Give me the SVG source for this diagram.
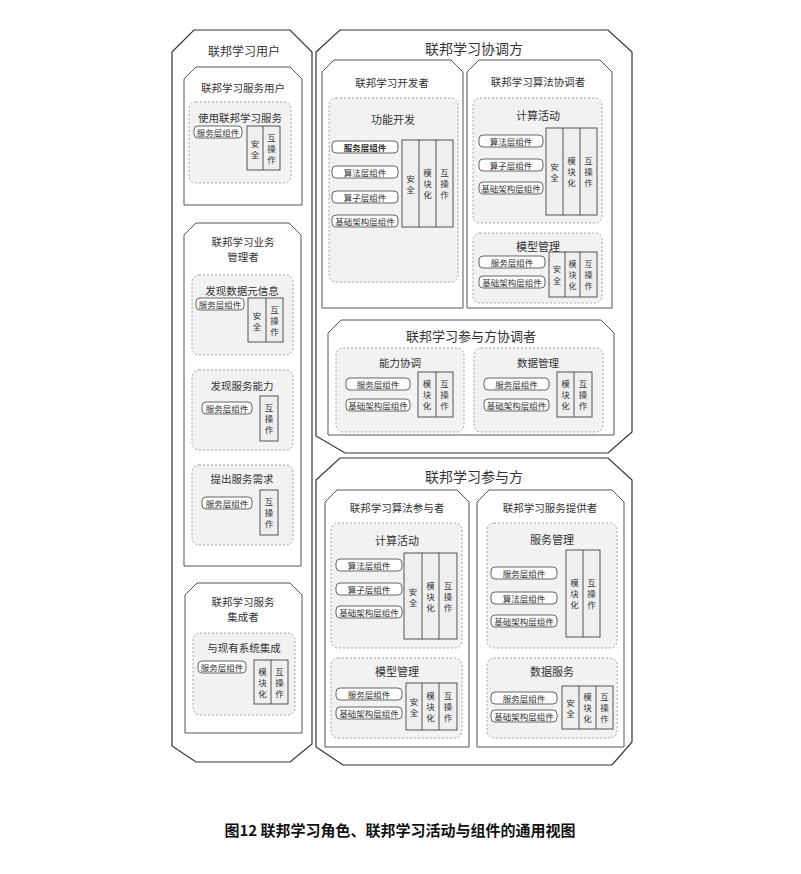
<svg xmlns="http://www.w3.org/2000/svg" width="801" height="874" viewBox="0 0 801 874">
<style>
text{font-family:"Noto Sans CJK SC","Noto Sans CJK JP",sans-serif;fill:#333;text-anchor:middle;dominant-baseline:central}
.o{fill:#fff;stroke:#333;stroke-width:1.2}
.r{fill:#fff;stroke:#555;stroke-width:1}
.d{fill:#f2f2f2;stroke:#999;stroke-width:0.9;stroke-dasharray:2 2}
.c{fill:#fff;stroke:#555;stroke-width:0.9}
.b{fill:#efefef;stroke:#444;stroke-width:0.9}
.t1{font-size:14px}.t2{font-size:10.5px}.t3{font-size:11px}.tc{font-size:8.5px}.tv{font-size:8.5px}
.cap{font-size:15px;font-weight:bold;fill:#111}
</style>
<rect width="801" height="874" fill="#fff"/>
<g id="outer">
<path class="o" d="M172,52 L194,30 L290,30 L312,52 L312,744 L290,762 L196,762 L172,746 Z"/>
<text class="t2" x="244" y="50" style="font-size:12px">联邦学习用户</text>
<path class="o" d="M316,52 L340,30 L608,30 L632,52 L632,432 L608,453 L345,453 L316,436 Z"/>
<text class="t1" x="474" y="48">联邦学习协调方</text>
<path class="o" d="M316,480 L340,458 L608,458 L632,480 L632,742 L612,765 L343,765 L316,747 Z"/>
<text class="t1" x="474" y="476">联邦学习参与方</text>
</g>
<g id="fuyonghu">
<path class="r" d="M184,79 L196,67 L290,67 L302,79 L302,205 L184,205 Z"/>
<text class="t2" x="243" y="87">联邦学习服务用户</text>
<rect class="d" x="189" y="102" width="102" height="81" rx="7"/>
<text class="t2" x="240" y="117">使用联邦学习服务</text>
<rect class="c" x="194" y="126" width="48" height="12" rx="4"/><text class="tc" x="218" y="132">服务层组件</text>
<rect class="b" x="247" y="126" width="33" height="44"/><line stroke="#444" stroke-width="0.9" x1="263" y1="126" x2="263" y2="170"/>
<text class="tv" x="255" y="142.5">安<tspan x="255" dy="11">全</tspan></text>
<text class="tv" x="271.5" y="137">互<tspan x="271.5" dy="11">操</tspan><tspan x="271.5" dy="11">作</tspan></text>
</g>
<g id="yewuguanli">
<path class="r" d="M184,235 L196,223 L289,223 L301,235 L301,566 L184,566 Z"/>
<text class="t2" x="243" y="241">联邦学习业务</text><text class="t2" x="243" y="256">管理者</text>
<rect class="d" x="192" y="275" width="101" height="80" rx="7"/>
<text class="t2" x="242" y="290">发现数据元信息</text>
<rect class="c" x="196" y="298" width="48" height="12" rx="4"/><text class="tc" x="220" y="304">服务层组件</text>
<rect class="b" x="248" y="298" width="35" height="44"/><line stroke="#444" stroke-width="0.9" x1="266" y1="298" x2="266" y2="342"/>
<text class="tv" x="257" y="314.5">安<tspan x="257" dy="11">全</tspan></text>
<text class="tv" x="274.5" y="309">互<tspan x="274.5" dy="11">操</tspan><tspan x="274.5" dy="11">作</tspan></text>
<rect class="d" x="192" y="370" width="101" height="80" rx="7"/>
<text class="t2" x="242" y="385">发现服务能力</text>
<rect class="c" x="202" y="402" width="50" height="12" rx="4"/><text class="tc" x="227" y="408">服务层组件</text>
<rect class="b" x="260" y="396" width="18" height="45"/>
<text class="tv" x="269" y="407">互<tspan x="269" dy="11">操</tspan><tspan x="269" dy="11">作</tspan></text>
<rect class="d" x="192" y="465" width="101" height="80" rx="7"/>
<text class="t2" x="242" y="478">提出服务需求</text>
<rect class="c" x="202" y="497" width="50" height="12" rx="4"/><text class="tc" x="227" y="503">服务层组件</text>
<rect class="b" x="260" y="490" width="18" height="45"/>
<text class="tv" x="269" y="501">互<tspan x="269" dy="11">操</tspan><tspan x="269" dy="11">作</tspan></text>
</g>
<g id="jicheng">
<path class="r" d="M185,595 L197,583 L290,583 L302,595 L302,733 L185,733 Z"/>
<text class="t2" x="243" y="601">联邦学习服务</text><text class="t2" x="243" y="616">集成者</text>
<rect class="d" x="193" y="633" width="102" height="82" rx="7"/>
<text class="t2" x="244" y="647">与现有系统集成</text>
<rect class="c" x="198" y="661" width="48" height="12" rx="4"/><text class="tc" x="222" y="667">服务层组件</text>
<rect class="b" x="254" y="660" width="34" height="44"/><line stroke="#444" stroke-width="0.9" x1="271" y1="660" x2="271" y2="704"/>
<text class="tv" x="262.5" y="671">模<tspan x="262.5" dy="11">块</tspan><tspan x="262.5" dy="11">化</tspan></text>
<text class="tv" x="279.5" y="671">互<tspan x="279.5" dy="11">操</tspan><tspan x="279.5" dy="11">作</tspan></text>
</g>
<g id="kaifa">
<path class="r" d="M322,72 L334,60 L451,60 L463,72 L463,308 L322,308 Z"/>
<text class="t2" x="392" y="82">联邦学习开发者</text>
<rect class="d" x="329" y="98" width="129" height="184" rx="7"/>
<text class="t3" x="393" y="119">功能开发</text>
<rect class="c" x="332" y="141" width="66" height="12" rx="4"/><text class="tc" x="365" y="147" style="font-weight:bold">服务层组件</text>
<rect class="c" x="332" y="166" width="66" height="12" rx="4"/><text class="tc" x="365" y="172">算法层组件</text>
<rect class="c" x="332" y="191" width="66" height="12" rx="4"/><text class="tc" x="365" y="197">算子层组件</text>
<rect class="c" x="332" y="215" width="66" height="12" rx="4"/><text class="tc" x="365" y="221">基础架构层组件</text>
<rect class="b" x="402" y="140" width="51" height="87"/><line stroke="#444" stroke-width="0.9" x1="419" y1="140" x2="419" y2="227"/><line stroke="#444" stroke-width="0.9" x1="436" y1="140" x2="436" y2="227"/>
<text class="tv" x="410.5" y="177.5">安<tspan x="410.5" dy="11">全</tspan></text>
<text class="tv" x="427.5" y="172">模<tspan x="427.5" dy="11">块</tspan><tspan x="427.5" dy="11">化</tspan></text>
<text class="tv" x="444.5" y="172">互<tspan x="444.5" dy="11">操</tspan><tspan x="444.5" dy="11">作</tspan></text>
</g>
<g id="suanfaxietiao">
<path class="r" d="M467,72 L479,60 L600,60 L612,72 L612,308 L467,308 Z"/>
<text class="t2" x="538" y="81">联邦学习算法协调者</text>
<rect class="d" x="473" y="98" width="129" height="125" rx="7"/>
<text class="t3" x="538" y="115">计算活动</text>
<rect class="c" x="479" y="135" width="64" height="12" rx="4"/><text class="tc" x="511" y="141">算法层组件</text>
<rect class="c" x="479" y="159" width="64" height="12" rx="4"/><text class="tc" x="511" y="165">算子层组件</text>
<rect class="c" x="479" y="182" width="64" height="12" rx="4"/><text class="tc" x="511" y="188">基础架构层组件</text>
<rect class="b" x="546" y="128" width="51" height="87"/><line stroke="#444" stroke-width="0.9" x1="563" y1="128" x2="563" y2="215"/><line stroke="#444" stroke-width="0.9" x1="580" y1="128" x2="580" y2="215"/>
<text class="tv" x="554.5" y="165.5">安<tspan x="554.5" dy="11">全</tspan></text>
<text class="tv" x="571.5" y="160">模<tspan x="571.5" dy="11">块</tspan><tspan x="571.5" dy="11">化</tspan></text>
<text class="tv" x="588.5" y="160">互<tspan x="588.5" dy="11">操</tspan><tspan x="588.5" dy="11">作</tspan></text>
<rect class="d" x="473" y="233" width="129" height="70" rx="7"/>
<text class="t3" x="538" y="246">模型管理</text>
<rect class="c" x="479" y="256" width="66" height="12" rx="4"/><text class="tc" x="512" y="262">服务层组件</text>
<rect class="c" x="479" y="276" width="66" height="12" rx="4"/><text class="tc" x="512" y="282">基础架构层组件</text>
<rect class="b" x="549" y="252" width="48" height="45"/><line stroke="#444" stroke-width="0.9" x1="565" y1="252" x2="565" y2="297"/><line stroke="#444" stroke-width="0.9" x1="580" y1="252" x2="580" y2="297"/>
<text class="tv" x="557" y="268.5" style="font-size:8px">安<tspan x="557" dy="11">全</tspan></text>
<text class="tv" x="572.5" y="263" style="font-size:8px">模<tspan x="572.5" dy="11">块</tspan><tspan x="572.5" dy="11">化</tspan></text>
<text class="tv" x="588.5" y="263" style="font-size:8px">互<tspan x="588.5" dy="11">操</tspan><tspan x="588.5" dy="11">作</tspan></text>
</g>
<g id="canyuxietiao">
<path class="r" d="M328,333 L341,320 L601,320 L614,333 L614,435 L328,435 Z"/>
<text class="t1" x="471" y="335" style="font-size:13px">联邦学习参与方协调者</text>
<rect class="d" x="336" y="348" width="128" height="84" rx="7"/>
<text class="t2" x="400" y="362">能力协调</text>
<rect class="c" x="346" y="378" width="64" height="12" rx="4"/><text class="tc" x="378" y="384">服务层组件</text>
<rect class="c" x="346" y="399" width="64" height="12" rx="4"/><text class="tc" x="378" y="405">基础架构层组件</text>
<rect class="b" x="418" y="372" width="35" height="45"/><line stroke="#444" stroke-width="0.9" x1="436" y1="372" x2="436" y2="417"/>
<text class="tv" x="427" y="383">模<tspan x="427" dy="11">块</tspan><tspan x="427" dy="11">化</tspan></text>
<text class="tv" x="444.5" y="383">互<tspan x="444.5" dy="11">操</tspan><tspan x="444.5" dy="11">作</tspan></text>
<rect class="d" x="474" y="348" width="129" height="84" rx="7"/>
<text class="t2" x="538" y="362">数据管理</text>
<rect class="c" x="484" y="378" width="65" height="12" rx="4"/><text class="tc" x="516.5" y="384">服务层组件</text>
<rect class="c" x="484" y="399" width="65" height="12" rx="4"/><text class="tc" x="516.5" y="405">基础架构层组件</text>
<rect class="b" x="557" y="372" width="35" height="45"/><line stroke="#444" stroke-width="0.9" x1="574" y1="372" x2="574" y2="417"/>
<text class="tv" x="565.5" y="383">模<tspan x="565.5" dy="11">块</tspan><tspan x="565.5" dy="11">化</tspan></text>
<text class="tv" x="583" y="383">互<tspan x="583" dy="11">操</tspan><tspan x="583" dy="11">作</tspan></text>
</g>
<g id="suanfacanyu">
<path class="r" d="M325,502 L337,490 L457,490 L469,502 L469,747 L325,747 Z"/>
<text class="t2" x="397" y="507">联邦学习算法参与者</text>
<rect class="d" x="331" y="523" width="131" height="125" rx="7"/>
<text class="t3" x="397" y="540">计算活动</text>
<rect class="c" x="336" y="559" width="66" height="12" rx="4"/><text class="tc" x="369" y="565">算法层组件</text>
<rect class="c" x="336" y="583" width="66" height="12" rx="4"/><text class="tc" x="369" y="589">算子层组件</text>
<rect class="c" x="336" y="606" width="66" height="12" rx="4"/><text class="tc" x="369" y="612">基础架构层组件</text>
<rect class="b" x="404" y="553" width="53" height="86"/><line stroke="#444" stroke-width="0.9" x1="422" y1="553" x2="422" y2="639"/><line stroke="#444" stroke-width="0.9" x1="439" y1="553" x2="439" y2="639"/>
<text class="tv" x="413" y="590.5">安<tspan x="413" dy="11">全</tspan></text>
<text class="tv" x="430.5" y="585">模<tspan x="430.5" dy="11">块</tspan><tspan x="430.5" dy="11">化</tspan></text>
<text class="tv" x="448" y="585">互<tspan x="448" dy="11">操</tspan><tspan x="448" dy="11">作</tspan></text>
<rect class="d" x="331" y="658" width="131" height="80" rx="7"/>
<text class="t3" x="397" y="671">模型管理</text>
<rect class="c" x="336" y="688" width="66" height="12" rx="4"/><text class="tc" x="369" y="694">服务层组件</text>
<rect class="c" x="336" y="707" width="66" height="12" rx="4"/><text class="tc" x="369" y="713">基础架构层组件</text>
<rect class="b" x="406" y="683" width="51" height="47"/><line stroke="#444" stroke-width="0.9" x1="422" y1="683" x2="422" y2="730"/><line stroke="#444" stroke-width="0.9" x1="439" y1="683" x2="439" y2="730"/>
<text class="tv" x="414" y="700.5">安<tspan x="414" dy="11">全</tspan></text>
<text class="tv" x="430.5" y="695">模<tspan x="430.5" dy="11">块</tspan><tspan x="430.5" dy="11">化</tspan></text>
<text class="tv" x="448" y="695">互<tspan x="448" dy="11">操</tspan><tspan x="448" dy="11">作</tspan></text>
</g>
<g id="fuwutigong">
<path class="r" d="M477,502 L489,490 L612,490 L624,502 L624,747 L477,747 Z"/>
<text class="t2" x="550" y="507">联邦学习服务提供者</text>
<rect class="d" x="487" y="523" width="130" height="125" rx="7"/>
<text class="t3" x="552" y="539">服务管理</text>
<rect class="c" x="491" y="567" width="66" height="12" rx="4"/><text class="tc" x="524" y="573">服务层组件</text>
<rect class="c" x="491" y="592" width="66" height="12" rx="4"/><text class="tc" x="524" y="598">算法层组件</text>
<rect class="c" x="491" y="615" width="66" height="12" rx="4"/><text class="tc" x="524" y="621">基础架构层组件</text>
<rect class="b" x="566" y="550" width="34" height="87"/><line stroke="#444" stroke-width="0.9" x1="583" y1="550" x2="583" y2="637"/>
<text class="tv" x="574.5" y="582">模<tspan x="574.5" dy="11">块</tspan><tspan x="574.5" dy="11">化</tspan></text>
<text class="tv" x="591.5" y="582">互<tspan x="591.5" dy="11">操</tspan><tspan x="591.5" dy="11">作</tspan></text>
<rect class="d" x="487" y="658" width="130" height="80" rx="7"/>
<text class="t3" x="552" y="671">数据服务</text>
<rect class="c" x="491" y="692" width="66" height="12" rx="4"/><text class="tc" x="524" y="698">服务层组件</text>
<rect class="c" x="491" y="710" width="66" height="12" rx="4"/><text class="tc" x="524" y="716">基础架构层组件</text>
<rect class="b" x="562" y="686" width="51" height="43"/><line stroke="#444" stroke-width="0.9" x1="579" y1="686" x2="579" y2="729"/><line stroke="#444" stroke-width="0.9" x1="596" y1="686" x2="596" y2="729"/>
<text class="tv" x="570.5" y="701.5">安<tspan x="570.5" dy="11">全</tspan></text>
<text class="tv" x="587.5" y="696">模<tspan x="587.5" dy="11">块</tspan><tspan x="587.5" dy="11">化</tspan></text>
<text class="tv" x="604.5" y="696">互<tspan x="604.5" dy="11">操</tspan><tspan x="604.5" dy="11">作</tspan></text>
</g>
<g id="connectors"></g>
<text class="cap" x="400" y="829">图12 联邦学习角色、联邦学习活动与组件的通用视图</text>
</svg>
